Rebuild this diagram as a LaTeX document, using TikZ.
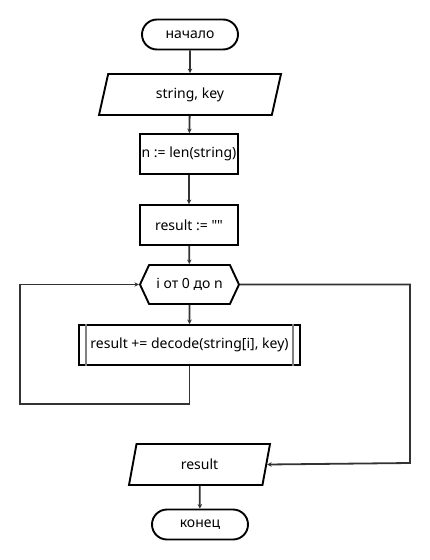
\documentclass[tikz,border=0pt]{standalone}
\usepackage{fontspec}
\setmainfont{Noto Sans}
\usetikzlibrary{shapes.geometric,shapes.symbols,shapes.misc,arrows.meta}
\tikzset{
  blk/.style={draw=black,line width=1.9pt,font=\fontsize{14}{16}\selectfont,inner sep=2pt},
  term/.style={blk,rounded rectangle,minimum width=100pt,minimum height=30pt},
  io/.style={blk,trapezium,trapezium left angle=63,trapezium right angle=117,trapezium stretches body,minimum height=41pt},
  proc/.style={blk,rectangle,minimum width=98pt,minimum height=40pt},
  lp/.style={blk,signal,signal to=west and east,signal pointer angle=130,minimum width=99pt,minimum height=39pt},
  arr/.style={draw=black!80,line width=1.8pt,-{Stealth[length=4.5pt,width=4.5pt]}}
}
\begin{document}
\begin{tikzpicture}[x=1pt,y=-1pt]
  \useasboundingbox (0,0) rectangle (430,560);
  \node[term] (start) at (190,34.5) {начало};
  \node[io,minimum width=182pt] (in) at (190,94.5) {string, key};
  \node[proc] (len) at (189,154) {n := len(string)};
  \node[proc] (init) at (189,225) {result := \textquotedbl\textquotedbl};
  \node[lp] (loop) at (189.5,284.5) {i от 0 до n};
  \node[proc,minimum width=221pt] (body) at (189.5,345) {result += decode(string[i], key)};
  \draw[gray,line width=1.5pt] ([xshift=8pt]body.north west) -- ([xshift=8pt]body.south west);
  \draw[gray,line width=1.5pt] ([xshift=-8pt]body.north east) -- ([xshift=-8pt]body.south east);
  \node[io,minimum width=141pt] (out) at (199.5,464.5) {result};
  \node[term] (stop) at (200,524.5) {конец};
  \coordinate (back) at (20,404); \coordinate (exit) at (410,463);
  % connectors
  \draw[arr] (start) -- (in); \draw[arr] (in) -- (len); \draw[arr] (len) -- (init); \draw[arr] (init) -- (loop);
  \draw[arr] (loop) -- (body); \draw[arr] (body.south) |- (back) |- (loop.west);
  \draw[arr] (loop.east) -| (exit) -- (out.east); \draw[arr] (out) -- (stop);
\end{tikzpicture}
\end{document}
